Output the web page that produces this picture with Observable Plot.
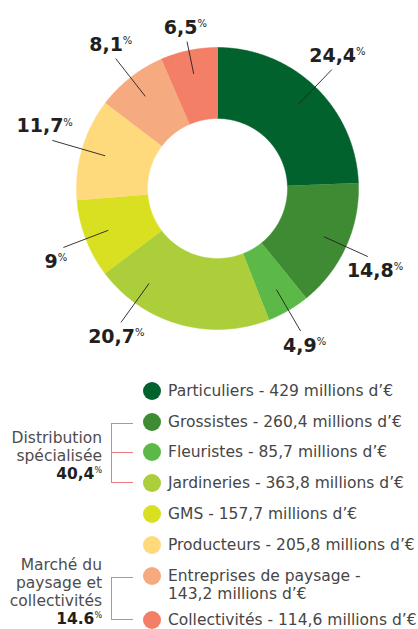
<!DOCTYPE html>
<html>
<head>
<meta charset="utf-8">
<script src="https://cdn.jsdelivr.net/npm/d3@7"></script>
<script src="https://cdn.jsdelivr.net/npm/@observablehq/plot@0.6"></script>
<style>
  html, body { margin: 0; padding: 0; background: #fff; }
  #page { position: relative; width: 418px; height: 629px; overflow: hidden; font-family: "DejaVu Sans", sans-serif; }
  #chart { position: absolute; left: 0; top: 0; }
  .sw { position: absolute; width: 18px; height: 18px; border-radius: 50%; }
  .lt { position: absolute; left: 168px; font-size: 15.5px; line-height: 18px; color: #464646; white-space: nowrap; }
  .gl { position: absolute; right: 316px; text-align: right; font-size: 15.5px; line-height: 18px; color: #4d4d4d; white-space: nowrap; }
  .gl b { color: #231f20; }
  .gl sup { font-size: 8px; font-weight: normal; vertical-align: 6px; line-height: 0; }
  .br { position: absolute; background: #ec7a80; }
</style>
</head>
<body>
<div id="page"><div id="chart"></div></div>
<script>
// ---- data ----
const categories = ["Particuliers", "Grossistes", "Fleuristes", "Jardineries", "GMS", "Producteurs", "Entreprises de paysage", "Collectivités"];
const values = [429, 260.4, 85.7, 363.8, 157.7, 205.8, 143.2, 114.6]; // millions d'€
const shareLabels = ["24,4", "14,8", "4,9", "20,7", "9", "11,7", "8,1", "6,5"];
const colors = ["#02622d", "#3f8b34", "#5db947", "#abce3a", "#d9e021", "#feda7d", "#f6aa80", "#f37f67"];
const groupNames = [["Distribution", "spécialisée"], ["Marché du", "paysage et", "collectivités"]];
const groupShares = ["40,4", "14.6"];
const groupMembers = [[1, 2, 3], [6, 7]];

// ---- layout ----
const W = 418, H = 365, CX = 217, CY = 188;
const R_OUT = 141, R_IN = 70, R_LEAD0 = 117, R_LEAD1 = 165;
const leadEndOverride = {"Collectivités": 150, "Producteurs": 172};
const angleOffset = {"Jardineries": 0.35};

const rows = categories.map((name, i) => ({name, value: values[i], label: shareLabels[i]}));
const arcs = d3.pie().sort(null).value(d => d.value)(rows);

const pts = [];
for (const a of arcs) {
  const n = Math.max(8, Math.ceil((a.endAngle - a.startAngle) / 0.01));
  for (let i = 0; i <= n; i++) {
    const t = a.startAngle + (a.endAngle - a.startAngle) * i / n;
    pts.push({name: a.data.name, x: R_OUT * Math.sin(t), y: -R_OUT * Math.cos(t)});
  }
  for (let i = n; i >= 0; i--) {
    const t = a.startAngle + (a.endAngle - a.startAngle) * i / n;
    pts.push({name: a.data.name, x: R_IN * Math.sin(t), y: -R_IN * Math.cos(t)});
  }
}

const leaders = arcs.map(a => {
  const t = (a.startAngle + a.endAngle) / 2 + (angleOffset[a.data.name] || 0);
  const r1 = leadEndOverride[a.data.name] || R_LEAD1;
  const ex = r1 * Math.sin(t), ey = -r1 * Math.cos(t);
  return {
    name: a.data.name, label: a.data.label,
    x1: R_LEAD0 * Math.sin(t), y1: -R_LEAD0 * Math.cos(t),
    x2: ex, y2: ey,
    lx: ex + 8 * Math.sin(t), ly: ey,
    top: Math.cos(t) > 0
  };
});

const textOpts = {x: "lx", y: "ly", text: "label", fill: "#231f20", fontFamily: "DejaVu Sans", fontWeight: "bold", fontSize: 19, textAnchor: "middle"};

const svg = Plot.plot({
  width: W, height: H,
  margin: 0,
  x: {domain: [-CX, W - CX], range: [0, W], axis: null},
  y: {domain: [-CY, H - CY], range: [0, H], axis: null},
  color: {domain: categories, range: colors},
  style: {background: "transparent", overflow: "visible"},
  marks: [
    Plot.line(pts, {x: "x", y: "y", z: "name", fill: "name", stroke: "name", strokeWidth: 0.5, curve: "linear"}),
    Plot.link(leaders, {x1: "x1", y1: "y1", x2: "x2", y2: "y2", stroke: "#231f20", strokeWidth: 0.9}),
    Plot.text(leaders.filter(d => d.top), {...textOpts, lineAnchor: "bottom", dy: -8}),
    Plot.text(leaders.filter(d => !d.top), {...textOpts, lineAnchor: "top", dy: 7})
  ]
});

d3.select(svg).selectAll("g[aria-label='text'] text").each(function () {
  const t = this.textContent;
  this.textContent = "";
  const s = d3.select(this);
  s.append("tspan").text(t);
  s.append("tspan").attr("font-size", 10).attr("font-weight", "normal").attr("dy", -6.6).text("%");
});

document.getElementById("chart").appendChild(svg);

// ---- legend ----
const page = document.getElementById("page");
const rowY = [391, 422, 452, 483, 514, 545, 576, 620];
const fmt = v => String(v).replace(".", ",");
categories.forEach((name, i) => {
  const sw = document.createElement("div");
  sw.className = "sw";
  sw.style.left = (152 - 9) + "px";
  sw.style.top = (rowY[i] - 9) + "px";
  sw.style.background = colors[i];
  page.appendChild(sw);
  const lt = document.createElement("div");
  lt.className = "lt";
  lt.style.top = (rowY[i] - 8.7) + "px";
  const label = name + " - " + fmt(values[i]) + " millions d’€";
  if (label.length > 36) {
    lt.innerHTML = name + " -<br>" + fmt(values[i]) + " millions d’€";
  } else {
    lt.textContent = label;
  }
  page.appendChild(lt);
});

// group brackets and labels
const groupTop = [429, 556];
groupMembers.forEach((mem, g) => {
  const ys = mem.map(i => rowY[i]);
  const y0 = Math.min(...ys) + 1, y1 = Math.max(...ys) - 1;
  const v = document.createElement("div");
  v.className = "br";
  v.style.left = "111px"; v.style.top = y0 + "px"; v.style.width = "1px"; v.style.height = (y1 - y0 + 1) + "px";
  page.appendChild(v);
  ys.forEach(y => {
    const h = document.createElement("div");
    h.className = "br";
    h.style.left = "111px"; h.style.top = (Math.min(Math.max(y, y0), y1)) + "px"; h.style.width = "22px"; h.style.height = "1px";
    page.appendChild(h);
  });
  const gl = document.createElement("div");
  gl.className = "gl";
  gl.style.top = groupTop[g] + "px";
  gl.innerHTML = groupNames[g].join("<br>") + "<br><b>" + groupShares[g] + "<sup>%</sup></b>";
  page.appendChild(gl);
});
</script>
</body>
</html>
